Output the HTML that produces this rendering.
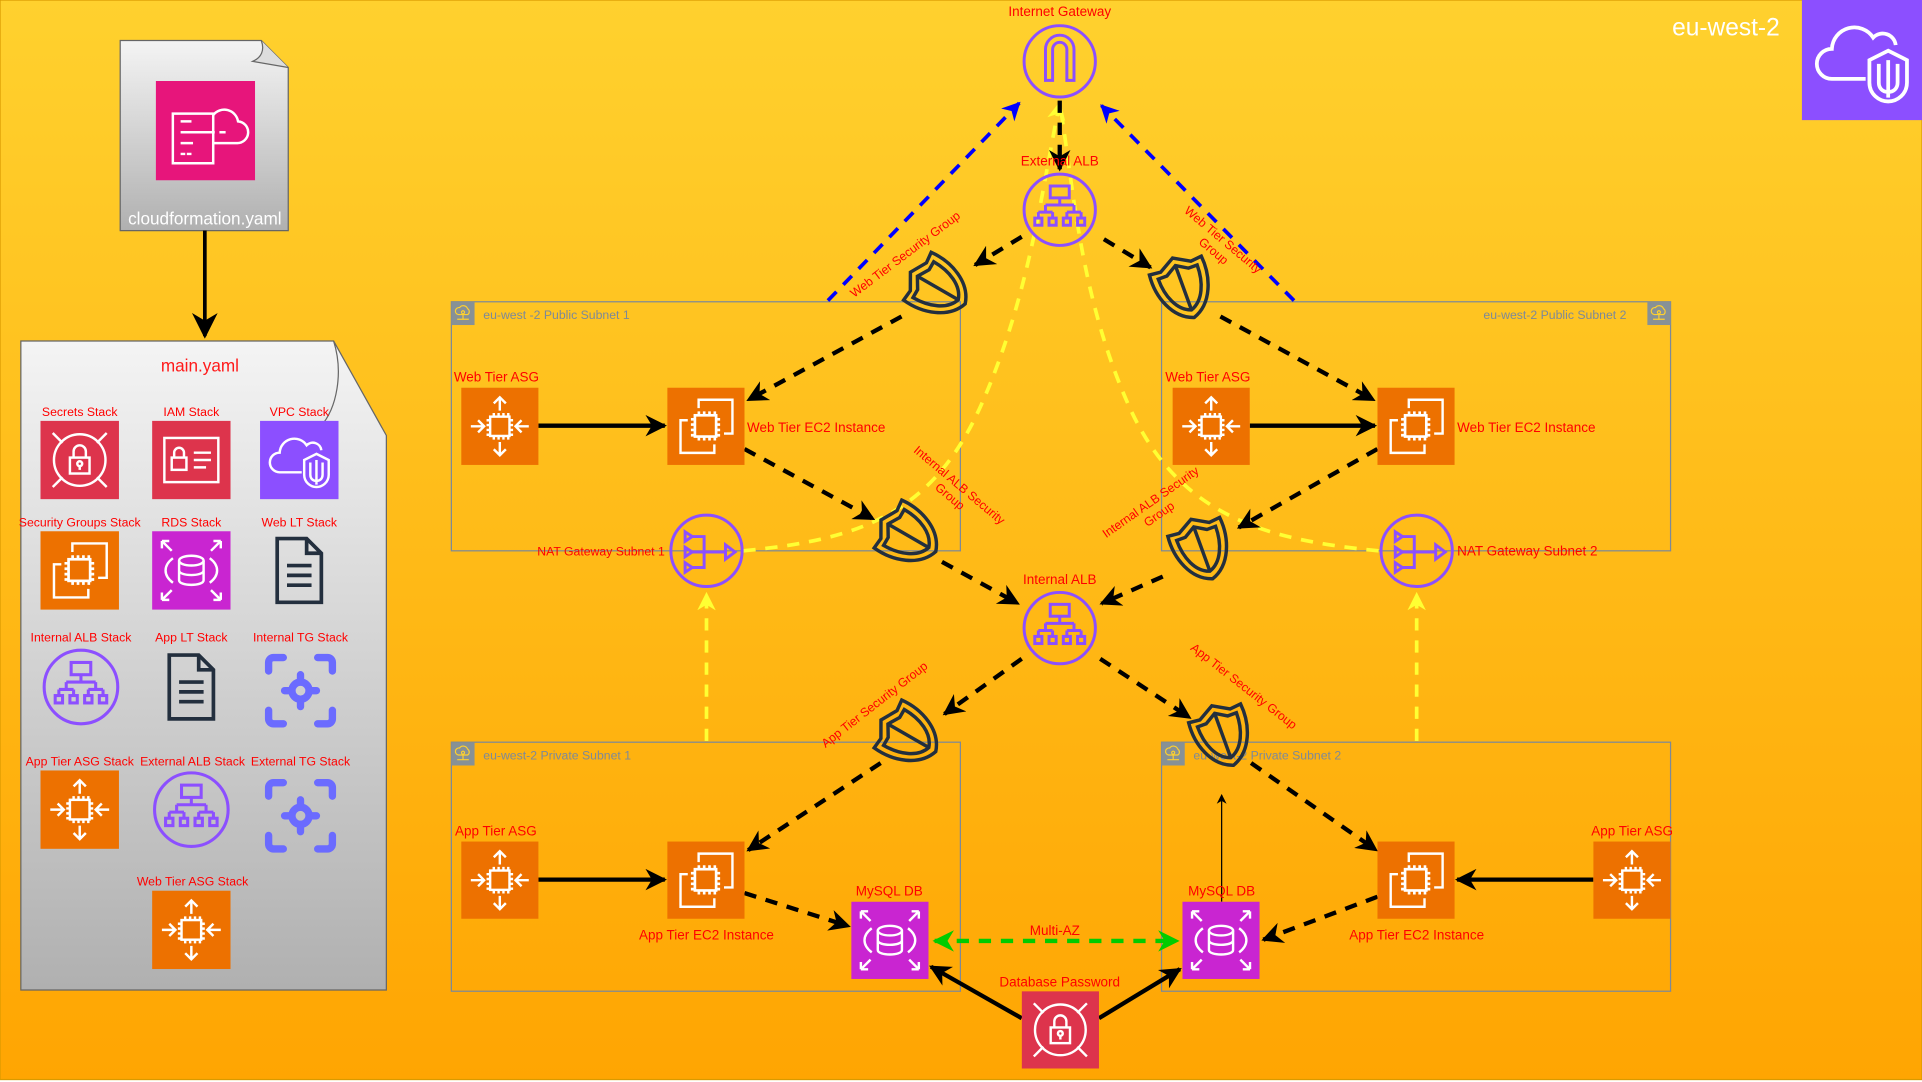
<!DOCTYPE html>
<html><head><meta charset="utf-8"><style>
html,body{margin:0;padding:0;background:#fff}
svg{display:block}
text{font-family:"Liberation Sans",sans-serif}
</style></head><body>
<svg width="1922" height="1082" viewBox="0 0 1567 882" preserveAspectRatio="none" xmlns="http://www.w3.org/2000/svg">
<defs>
<linearGradient id="bg" x1="0" y1="0" x2="0" y2="1"><stop offset="0" stop-color="#FFD12E"/><stop offset="1" stop-color="#FFA502"/></linearGradient>
<linearGradient id="doc" x1="0" y1="0" x2="0" y2="1"><stop offset="0" stop-color="#F4F4F4"/><stop offset="1" stop-color="#B0B0B0"/></linearGradient>
<marker id="ab" viewBox="0 0 10 10" refX="9" refY="5" markerWidth="5" markerHeight="5" orient="auto-start-reverse"><path d="M0,0 L10,5 L0,10 L3,5z" fill="#000"/></marker>
<marker id="ab2" viewBox="0 0 10 10" refX="9" refY="5" markerWidth="7" markerHeight="7" orient="auto"><path d="M0,0 L10,5 L0,10 L3,5z" fill="#000"/></marker>
<marker id="abl" viewBox="0 0 10 10" refX="9" refY="5" markerWidth="5" markerHeight="5" orient="auto"><path d="M0,0 L10,5 L0,10 L3,5z" fill="#0000FF"/></marker>
<marker id="ay" viewBox="0 0 10 10" refX="9" refY="5" markerWidth="5" markerHeight="5" orient="auto"><path d="M0,0 L10,5 L0,10 L3,5z" fill="#FFFF33"/></marker>
<marker id="ag" viewBox="0 0 10 10" refX="9" refY="5" markerWidth="5" markerHeight="5" orient="auto-start-reverse"><path d="M0,0 L10,5 L0,10 L3,5z" fill="#00CC00"/></marker>
<marker id="at" viewBox="0 0 10 10" refX="9" refY="5" markerWidth="8" markerHeight="8" orient="auto"><path d="M0,0 L10,5 L0,10 L3,5z" fill="#000"/></marker>

<g id="chip" fill="none" stroke="#fff" stroke-width="2"><rect x="24" y="24" width="16" height="16"/><path d="M27 21v3M31 21v3M35 21v3M39 21v3M27 40v3M31 40v3M35 40v3M39 40v3M21 27h3M21 31h3M21 35h3M21 39h3M40 27h3M40 31h3M40 35h3M40 39h3"/></g>
<symbol id="asg" viewBox="0 0 64 64"><rect width="64" height="64" fill="#ED7100"/><use href="#chip"/><g fill="none" stroke="#fff" stroke-width="2"><path d="M32 8v11M27 13l5-5 5 5M32 56V45M27 51l5 5 5-5M8 32h11M14 27l5 5-5 5M56 32H45M50 27l-5 5 5 5"/></g></symbol>
<symbol id="ec2" viewBox="0 0 64 64"><rect width="64" height="64" fill="#ED7100"/><g fill="none" stroke="#fff" stroke-width="2"><path d="M26 17v-7h28v28h-7M17 27h-6v27h28v-7"/></g><g transform="translate(-3.5,-3.5) scale(1.1)"><use href="#chip"/></g></symbol>
<symbol id="rds" viewBox="0 0 64 64"><rect width="64" height="64" fill="#C925D1"/><g fill="none" stroke="#fff" stroke-width="2"><ellipse cx="32" cy="24" rx="10" ry="4"/><path d="M22 24v16c0 5 20 5 20 0V24M22 32c0 5 20 5 20 0"/><path d="M17 22c-8 6-8 14 0 20M47 22c8 6 8 14 0 20"/><path d="M8 8l8 8M8 8h6M8 8v6M56 8l-8 8M56 8h-6M56 8v6M8 56l8-8M8 56h6M8 56v-6M56 56l-8-8M56 56h-6M56 56v-6"/></g></symbol>
<symbol id="sec" viewBox="0 0 64 64"><rect width="64" height="64" fill="#DD344C"/><g fill="none" stroke="#fff" stroke-width="2"><circle cx="32" cy="32" r="21"/><rect x="24" y="30" width="16" height="13"/><path d="M27 30v-5a5 5 0 0 1 10 0v5"/><circle cx="32" cy="35" r="2"/><path d="M32 37v3M10 10l8 8M54 10l-8 8M10 54l8-8M54 54l-8-8"/></g></symbol>
<symbol id="iam" viewBox="0 0 64 64"><rect width="64" height="64" fill="#DD344C"/><g fill="none" stroke="#fff" stroke-width="2"><rect x="10" y="14" width="44" height="36"/><rect x="16" y="30" width="12" height="10"/><path d="M18 30v-4a4 4 0 0 1 8 0v4M34 26h14M34 32h14M34 38h10"/></g></symbol>
<symbol id="vpc" viewBox="0 0 64 64"><rect width="64" height="64" fill="#8C4FFF"/><g fill="none" stroke="#fff" stroke-width="2"><path d="M34 42H16a8 8 0 0 1 0-16a12 12 0 0 1 22-6a7 7 0 0 1 12 4"/><path d="M46 27l10 5v12c0 6-5 10-10 10s-10-4-10-10V32z"/><path d="M46 32v20M41 34v10c0 3 2 5 5 5s5-2 5-5V34"/></g></symbol>
<symbol id="alb" viewBox="0 0 64 64"><circle cx="32" cy="32" r="30" fill="none" stroke="#8C4FFF" stroke-width="2.5"/><g fill="none" stroke="#8C4FFF" stroke-width="2.5"><rect x="24" y="12" width="16" height="10"/><path d="M32 22v6M20 28h24M20 28v6M44 28v6M14 34h12M38 34h12M14 34v5M26 34v5M38 34v5M50 34v5"/><rect x="11" y="39" width="6" height="6"/><rect x="23" y="39" width="6" height="6"/><rect x="35" y="39" width="6" height="6"/><rect x="47" y="39" width="6" height="6"/></g></symbol>
<symbol id="docic" viewBox="0 0 64 64"><g fill="none" stroke="#232F3E" stroke-width="3"><path d="M14 6h24l12 12v40H14z"/><path d="M38 6v12h12M22 28h20M22 36h20M22 44h20"/></g></symbol>
<symbol id="tg" viewBox="0 0 64 64"><g fill="none" stroke="#6B6BFF" stroke-width="6" stroke-linecap="round"><path d="M6 16V9a4 4 0 0 1 4-4h8M46 5h8a4 4 0 0 1 4 4v7M58 48v7a4 4 0 0 1-4 4h-8M18 59h-8a4 4 0 0 1-4-4v-7"/><circle cx="32" cy="32" r="7"/><path d="M32 19v6M32 39v6M19 32h6M39 32h6"/></g></symbol>
<symbol id="igw" viewBox="0 0 64 64"><circle cx="32" cy="32" r="30" fill="none" stroke="#8C4FFF" stroke-width="2.5"/><path d="M20 48V22a12 12 0 0 1 24 0v26h-6V22a6 6 0 0 0-12 0v26z" fill="none" stroke="#8C4FFF" stroke-width="2.5"/></symbol>
<symbol id="nat" viewBox="0 0 64 64"><circle cx="32" cy="32" r="30" fill="none" stroke="#8C4FFF" stroke-width="2.5"/><g fill="none" stroke="#8C4FFF" stroke-width="2.5"><path d="M14 16l6 4-6 4zM14 29l6 4-6 4zM14 42l6 4-6 4zM20 20h10v26H20M20 33h28M48 27l8 6-8 6z"/></g></symbol>
<symbol id="shield" viewBox="0 0 64 64"><g fill="none" stroke="#232F3E" stroke-width="3"><path d="M32 4l14 8 10-1c2 20-6 42-24 48C14 53 6 31 8 11l10 1z"/><path d="M32 11l10 6 8 0c0 16-6 31-18 35C20 48 14 33 14 17h8z"/><path d="M32 11v41"/></g></symbol>
<symbol id="cfn" viewBox="0 0 64 64"><rect width="64" height="64" fill="#E7157B"/><g fill="none" stroke="#fff" stroke-width="1.6"><path d="M11 21h26v32H11z"/><path d="M16 26h7M16 33h22M16 40h8M16 47h3M20 47h3M41 33h4M37 40h15a7 7 0 0 0 1-14a9 9 0 0 0-16-4"/></g></symbol>
<symbol id="subic" viewBox="0 0 20 20"><rect width="20" height="20" fill="#879196"/><g fill="none" stroke="#FFD12E" stroke-width="1"><path d="M6 11a3 3 0 0 1 1-6a4 4 0 0 1 7 1a3 3 0 0 1 0 5z"/><path d="M10 11v4M5 15h10"/><circle cx="10" cy="9" r="1.3"/></g></symbol>
</defs>

<rect x="0" y="0" width="1567" height="880" fill="url(#bg)" stroke="#D99A00" stroke-width="1"/>

<path d="M98 33H213L235 55V188H98z" fill="url(#doc)" stroke="#666" stroke-width="1"/>
<path d="M213 33c3 8 0 14-7 17l29 5" fill="#DDD" stroke="#666" stroke-width="1"/>
<use href="#cfn" x="127" y="66" width="81" height="81"/>
<text x="167" y="183" font-size="14" fill="#fff" text-anchor="middle">cloudformation.yaml</text>
<line x1="167" y1="188" x2="167" y2="274" stroke="#000" stroke-width="3" marker-end="url(#ab2)"/>

<path d="M17 278H272L315 355V807H17z" fill="url(#doc)" stroke="#666" stroke-width="1"/>
<path d="M272 278c8 25 3 55-11 70" fill="none" stroke="#666" stroke-width="1"/>
<text x="163" y="303" font-size="14" fill="#FF1A1A" text-anchor="middle">main.yaml</text>
<g font-size="10" fill="#FF0000" text-anchor="middle">
<text x="65" y="339">Secrets Stack</text><text x="156" y="339">IAM Stack</text><text x="244" y="339">VPC Stack</text>
<text x="65" y="429">Security Groups Stack</text><text x="156" y="429">RDS Stack</text><text x="244" y="429">Web LT Stack</text>
<text x="66" y="523">Internal ALB Stack</text><text x="156" y="523">App LT Stack</text><text x="245" y="523">Internal TG Stack</text>
<text x="65" y="624">App Tier ASG Stack</text><text x="157" y="624">External ALB Stack</text><text x="245" y="624">External TG Stack</text>
<text x="157" y="722">Web Tier ASG Stack</text>
</g>
<use href="#sec" x="33" y="343" width="64" height="64"/>
<use href="#iam" x="124" y="343" width="64" height="64"/>
<use href="#vpc" x="212" y="343" width="64" height="64"/>
<use href="#ec2" x="33" y="433" width="64" height="64"/>
<use href="#rds" x="124" y="433" width="64" height="64"/>
<use href="#docic" x="212" y="433" width="64" height="64"/>
<use href="#alb" x="34" y="528" width="64" height="64"/>
<use href="#docic" x="124" y="528" width="64" height="64"/>
<use href="#tg" x="213" y="531" width="64" height="64"/>
<use href="#asg" x="33" y="628" width="64" height="64"/>
<use href="#alb" x="124" y="628" width="64" height="64"/>
<use href="#tg" x="213" y="633" width="64" height="64"/>
<use href="#asg" x="124" y="726" width="64" height="64"/>

<text x="1451" y="29" font-size="20" fill="#fff" text-anchor="end">eu-west-2</text>
<use href="#vpc" x="1469" y="0" width="98" height="98"/>

<g fill="none" stroke="#7D8998" stroke-width="1">
<rect x="368" y="246" width="415" height="203"/><rect x="947" y="246" width="415" height="203"/>
<rect x="368" y="605" width="415" height="203"/><rect x="947" y="605" width="415" height="203"/>
</g>
<use href="#subic" x="368" y="246" width="19" height="19"/>
<use href="#subic" x="1343" y="246" width="19" height="19"/>
<use href="#subic" x="368" y="605" width="19" height="19"/>
<use href="#subic" x="947" y="605" width="19" height="19"/>
<g font-size="10" fill="#7D8998">
<text x="394" y="260">eu-west -2 Public Subnet 1</text>
<text x="1326" y="260" text-anchor="end">eu-west-2 Public Subnet 2</text>
<text x="394" y="619">eu-west-2 Private Subnet 1</text>
<text x="973" y="619">eu-west-2 Private Subnet 2</text>
</g>

<g fill="none" stroke="#FFFF33" stroke-width="3" stroke-dasharray="10 8">
<path d="M606 449C700 440 760 420 800 330S850 150 864 84" marker-end="url(#ay)"/>
<path d="M1124 449C1030 440 960 420 920 330S875 150 864 84"/>
<line x1="576" y1="604" x2="576" y2="484" marker-end="url(#ay)"/>
<line x1="1155" y1="604" x2="1155" y2="484" marker-end="url(#ay)"/>
</g>

<g stroke="#0000FF" stroke-width="3" stroke-dasharray="10 8" fill="none">
<line x1="675" y1="245" x2="831" y2="84" marker-end="url(#abl)"/>
<line x1="1055" y1="245" x2="898" y2="86" marker-end="url(#abl)"/>
</g>

<g stroke="#000" stroke-width="3.5" stroke-dasharray="10 8" fill="none" marker-end="url(#ab)">
<line x1="864" y1="82" x2="864" y2="138"/>
<line x1="833" y1="193" x2="795" y2="216"/>
<line x1="735" y1="258" x2="610" y2="326"/>
<line x1="900" y1="195" x2="938" y2="218"/>
<line x1="995" y1="258" x2="1120" y2="326"/>
<line x1="607" y1="366" x2="712" y2="423"/>
<line x1="768" y1="458" x2="830" y2="492"/>
<line x1="1123" y1="366" x2="1010" y2="430"/>
<line x1="948" y1="470" x2="898" y2="492"/>
<line x1="833" y1="537" x2="770" y2="582"/>
<line x1="718" y1="622" x2="610" y2="693"/>
<line x1="607" y1="728" x2="692" y2="755"/>
<line x1="897" y1="537" x2="970" y2="585"/>
<line x1="1020" y1="622" x2="1122" y2="693"/>
<line x1="1123" y1="731" x2="1030" y2="766"/>
</g>

<g stroke="#000" stroke-width="3.5" fill="none" marker-end="url(#ab)">
<line x1="439" y1="347" x2="542" y2="347"/>
<line x1="1019" y1="347" x2="1121" y2="347"/>
<line x1="439" y1="717" x2="542" y2="717"/>
<line x1="1299" y1="717" x2="1188" y2="717"/>
<line x1="833" y1="830" x2="759" y2="788"/>
<line x1="896" y1="830" x2="962" y2="790"/>
</g>
<line x1="996" y1="735" x2="996" y2="648" stroke="#000" stroke-width="1" marker-end="url(#at)"/>
<line x1="762" y1="767" x2="960" y2="767" stroke="#00CC00" stroke-width="3.5" stroke-dasharray="10 8" marker-start="url(#ag)" marker-end="url(#ag)"/>

<use href="#igw" x="833" y="19" width="62" height="62"/>
<use href="#alb" x="833" y="140" width="62" height="62"/>
<use href="#alb" x="833" y="481" width="62" height="62"/>
<use href="#nat" x="545" y="418" width="62" height="62"/>
<use href="#nat" x="1124" y="418" width="62" height="62"/>
<use href="#asg" x="376" y="316" width="63" height="63"/>
<use href="#ec2" x="544" y="316" width="63" height="63"/>
<use href="#asg" x="956" y="316" width="63" height="63"/>
<use href="#ec2" x="1123" y="316" width="63" height="63"/>
<use href="#asg" x="376" y="686" width="63" height="63"/>
<use href="#ec2" x="544" y="686" width="63" height="63"/>
<use href="#ec2" x="1123" y="686" width="63" height="63"/>
<use href="#asg" x="1299" y="686" width="63" height="63"/>
<use href="#rds" x="694" y="735" width="63" height="63"/>
<use href="#rds" x="964" y="735" width="63" height="63"/>
<use href="#sec" x="833" y="808" width="63" height="63"/>

<use href="#shield" x="0" y="0" width="60" height="60" transform="translate(765,235) rotate(-60) translate(-30,-30)"/>
<use href="#shield" x="0" y="0" width="60" height="60" transform="translate(965,235) rotate(-20) translate(-30,-30)"/>
<use href="#shield" x="0" y="0" width="60" height="60" transform="translate(741,437) rotate(-60) translate(-30,-30)"/>
<use href="#shield" x="0" y="0" width="60" height="60" transform="translate(980,448) rotate(-20) translate(-30,-30)"/>
<use href="#shield" x="0" y="0" width="60" height="60" transform="translate(741,600) rotate(-60) translate(-30,-30)"/>
<use href="#shield" x="0" y="0" width="60" height="60" transform="translate(997,600) rotate(-20) translate(-30,-30)"/>

<g font-size="11" fill="#FF0000">
<text x="864" y="13" text-anchor="middle">Internet Gateway</text>
<text x="864" y="135" text-anchor="middle">External ALB</text>
<text x="864" y="476" text-anchor="middle">Internal ALB</text>
<text x="370" y="311">Web Tier ASG</text>
<text x="950" y="311">Web Tier ASG</text>
<text x="609" y="352">Web Tier EC2 Instance</text>
<text x="1188" y="352">Web Tier EC2 Instance</text>
<text x="371" y="681">App Tier ASG</text>
<text x="1364" y="681" text-anchor="end">App Tier ASG</text>
<text x="576" y="766" text-anchor="middle">App Tier EC2 Instance</text>
<text x="1155" y="766" text-anchor="middle">App Tier EC2 Instance</text>
<text x="725" y="730" text-anchor="middle">MySQL DB</text>
<text x="996" y="730" text-anchor="middle">MySQL DB</text>
<text x="864" y="804" text-anchor="middle">Database Password</text>
<text x="860" y="762" text-anchor="middle">Multi-AZ</text>
<text x="542" y="453" text-anchor="end" font-size="10">NAT Gateway Subnet 1</text>
<text x="1188" y="453" font-size="11">NAT Gateway Subnet 2</text>
<text transform="translate(740,210) rotate(-37)" text-anchor="middle" font-size="10">Web Tier Security Group</text>
<text transform="translate(995,198) rotate(40)" text-anchor="middle" font-size="10">Web Tier Security<tspan x="0" dy="12">Group</tspan></text>
<text transform="translate(780,398) rotate(40)" text-anchor="middle" font-size="10">Internal ALB Security<tspan x="0" dy="12">Group</tspan></text>
<text transform="translate(940,412) rotate(-35)" text-anchor="middle" font-size="10">Internal ALB Security<tspan x="0" dy="12">Group</tspan></text>
<text transform="translate(715,577) rotate(-38)" text-anchor="middle" font-size="10">App Tier Security Group</text>
<text transform="translate(1012,562) rotate(38)" text-anchor="middle" font-size="10">App Tier Security Group</text>
</g>
</svg>
</body></html>
